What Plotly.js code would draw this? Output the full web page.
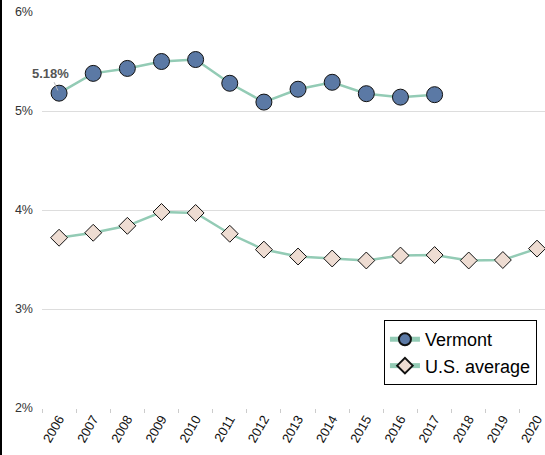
<!DOCTYPE html>
<html>
<head>
<meta charset="utf-8">
<script src="https://cdn.plot.ly/plotly-3.0.1.min.js"></script>
<style>
html,body{margin:0;padding:0;background:#fff;}
#chart{width:545px;height:455px;position:relative;}
#edge{position:absolute;left:0;top:0;width:2px;height:455px;background:#000;z-index:10;}
</style>
</head>
<body>
<div id="edge"></div>
<div id="chart"></div>
<script>
const years = ["2006","2007","2008","2009","2010","2011","2012","2013","2014","2015","2016","2017","2018","2019","2020"];
const vermontYears = ["2006","2007","2008","2009","2010","2011","2012","2013","2014","2015","2016","2017"];
const vermont = [5.18, 5.38, 5.43, 5.50, 5.52, 5.28, 5.09, 5.22, 5.29, 5.175, 5.14, 5.165];
const usAverage = [3.72, 3.77, 3.84, 3.98, 3.97, 3.76, 3.60, 3.53, 3.51, 3.49, 3.54, 3.545, 3.49, 3.495, 3.61];
const yTickVals = [2, 3, 4, 5, 6];
const yTickText = ["2%", "3%", "4%", "5%", "6%"];
const annotationText = "5.18%";

const lineColor = "#93cbb5";
const font = "Liberation Sans, Arial, Helvetica, sans-serif";

const traces = [
  {
    x: vermontYears, y: vermont, name: "Vermont", type: "scatter", mode: "lines+markers",
    line: {color: lineColor, width: 2.5},
    marker: {symbol: "circle", size: 16, color: "#5b79a5", line: {color: "#111", width: 1}}
  },
  {
    x: years, y: usAverage, name: "U.S. average", type: "scatter", mode: "lines+markers",
    line: {color: lineColor, width: 2.5},
    marker: {symbol: "diamond", size: 13, color: "#eedcd2", line: {color: "#111", width: 1}}
  }
];

const layout = {
  width: 545, height: 455,
  margin: {l: 42, r: 0, t: 12, b: 47},
  paper_bgcolor: "#fff", plot_bgcolor: "#fff",
  font: {family: font, size: 12, color: "#222"},
  showlegend: true,
  legend: {
    x: 0.984, xanchor: "right", y: 0.058, yanchor: "bottom",
    bgcolor: "#fff", bordercolor: "#000", borderwidth: 1,
    font: {family: font, size: 18, color: "#000"},
    itemsizing: "constant", itemwidth: 30
  },
  xaxis: {
    type: "category", categoryorder: "array", categoryarray: years,
    range: [-0.5, 14.234],
    tickson: "boundaries", ticks: "outside", ticklen: 4, tickcolor: "#ccc",
    showgrid: false, zeroline: false,
    showline: false,
    tickangle: -60,
    tickfont: {family: font, size: 13, color: "#111"}
  },
  yaxis: {
    range: [2, 6], tickvals: yTickVals, ticktext: yTickText,
    showgrid: true, gridcolor: "#dddddd", gridwidth: 1,
    zeroline: false, showline: false, ticks: "",
    tickfont: {family: font, size: 12.5, color: "#333"},
    ticklabelstandoff: 8
  },
  annotations: [{
    x: 0, y: vermont[0], xref: "x", yref: "y",
    text: "<b>" + annotationText + "</b>",
    showarrow: true, arrowhead: 0, arrowwidth: 1, arrowcolor: "#bbbbbb",
    ax: -9, ay: -20, standoff: 3,
    font: {family: font, size: 13, color: "#555"}
  }]
};

Plotly.newPlot("chart", traces, layout, {displayModeBar: false, staticPlot: true});
</script>
</body>
</html>
